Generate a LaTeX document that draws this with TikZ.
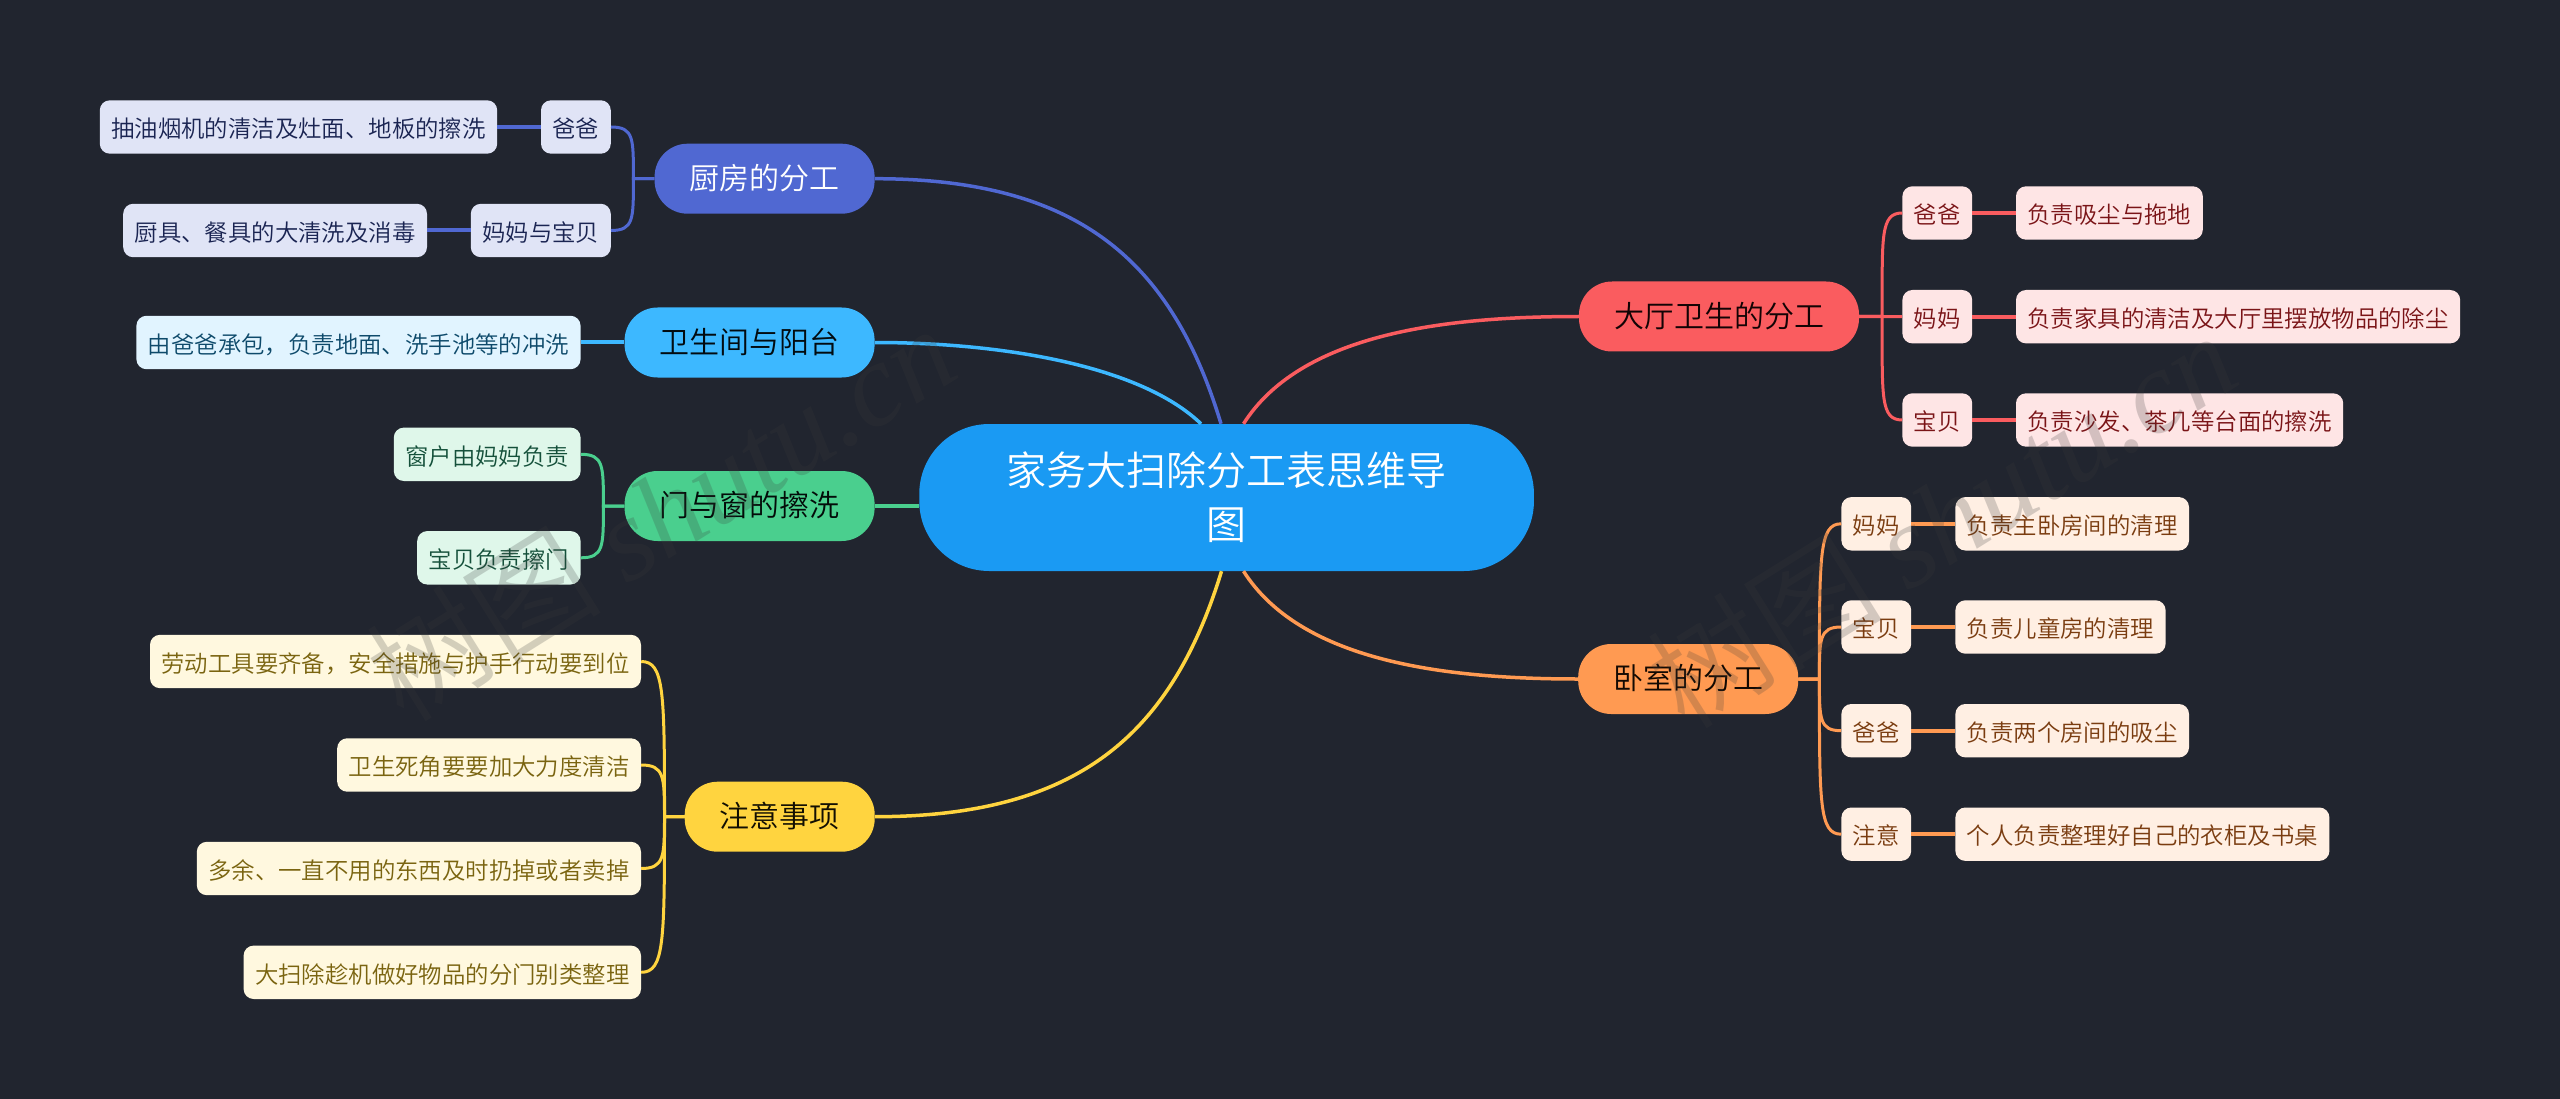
\documentclass[tikz,border=0pt]{standalone}
\usepackage{fontspec}
\setmainfont{Noto Sans CJK SC DemiLight}
\newfontfamily\markfont{Liberation Serif}
\definecolor{bgcol}{HTML}{21252F}
\definecolor{rootcol}{HTML}{1A9AF3}
\definecolor{kitchencol}{HTML}{5068D2}
\definecolor{kitchenpale}{HTML}{E0E4F6}
\definecolor{kitchentext}{HTML}{1A2452}
\definecolor{bathcol}{HTML}{3DB8FF}
\definecolor{bathpale}{HTML}{E1F4FF}
\definecolor{bathtext}{HTML}{0E4A6B}
\definecolor{doorcol}{HTML}{4ACF8E}
\definecolor{doorpale}{HTML}{DFF7EA}
\definecolor{doortext}{HTML}{14503A}
\definecolor{notecol}{HTML}{FFD43F}
\definecolor{notepale}{HTML}{FFF8DF}
\definecolor{notetext}{HTML}{7A6410}
\definecolor{hallcol}{HTML}{FA5C5F}
\definecolor{hallpale}{HTML}{FEE5E5}
\definecolor{halltext}{HTML}{7A1417}
\definecolor{bedcol}{HTML}{FF9A52}
\definecolor{bedpale}{HTML}{FFEFE3}
\definecolor{bedtext}{HTML}{7A3C10}
\tikzset{
    rootnode/.style={fill=rootcol, text=white, rounded corners=70pt, minimum width=614.7pt,
        minimum height=147pt, inner sep=0pt, align=center,
        font=\fontsize{40}{54}\selectfont},
    topicnode/.style={rounded corners=33pt, minimum height=70pt, inner xsep=35pt, inner ysep=0pt,
        text height=21.2pt, text depth=0pt, font=\fontsize{30}{36}\selectfont},
    leafnode/.style={rounded corners=10pt, minimum height=53.4pt, inner xsep=11.5pt, inner ysep=0pt,
        text height=21.5pt, text depth=0pt, font=\fontsize{23.4}{28}\selectfont},
    rootline/.style={line width=3.5pt},
    stemline/.style={line width=3pt},
    jobline/.style={line width=4pt},
    markstyle/.style={text=black!77, opacity=.22, rotate=32, font=\fontsize{118}{120}\selectfont}
}
\begin{document}
\begin{tikzpicture}[x=1pt, y=-1pt]
    % Background
    \useasboundingbox (0,0) rectangle (2560,1099);
    \fill[bgcol] (0,0) rectangle (2560,1099);

    % Root
    \node[rootnode] (root) at (1226.6,497.5) {家务大扫除分工表思维导\\图};

    % Kitchen
    \node[topicnode, anchor=east, fill=kitchencol, text=white] (kitchen) at (874.8,178.7) {厨房的分工};
    \node[leafnode, anchor=east, fill=kitchenpale, text=kitchentext] (kdad) at (611,127) {爸爸};
    \node[leafnode, anchor=east, fill=kitchenpale, text=kitchentext] (kdadjob) at (497.4,127) {抽油烟机的清洁及灶面、地板的擦洗};
    \node[leafnode, anchor=east, fill=kitchenpale, text=kitchentext] (kmom) at (611,230.5) {妈妈与宝贝};
    \node[leafnode, anchor=east, fill=kitchenpale, text=kitchentext] (kmomjob) at (427.2,230.5) {厨具、餐具的大清洗及消毒};

    % Bathroom
    \node[topicnode, anchor=east, fill=bathcol, text=black!85!bathtext] (bath) at (874.8,342.5) {卫生间与阳台};
    \node[leafnode, anchor=east, fill=bathpale, text=bathtext] (bathjob) at (580.8,342.5) {由爸爸承包，负责地面、洗手池等的冲洗};

    % Doors and windows
    \node[topicnode, anchor=east, fill=doorcol, text=black!85!doortext] (door) at (874.8,506) {门与窗的擦洗};
    \node[leafnode, anchor=east, fill=doorpale, text=doortext] (dwin) at (580.8,454.3) {窗户由妈妈负责};
    \node[leafnode, anchor=east, fill=doorpale, text=doortext] (ddoor) at (580.8,557.8) {宝贝负责擦门};

    % Notes
    \node[topicnode, anchor=east, fill=notecol, text=black!85!notetext] (notes) at (874.9,816.7) {注意事项};
    \node[leafnode, anchor=east, fill=notepale, text=notetext] (nfirst) at (641.2,661.5) {劳动工具要齐备，安全措施与护手行动要到位};
    \node[leafnode, anchor=east, fill=notepale, text=notetext] (nsecond) at (641.2,765) {卫生死角要要加大力度清洁};
    \node[leafnode, anchor=east, fill=notepale, text=notetext] (nthird) at (641.2,868.5) {多余、一直不用的东西及时扔掉或者卖掉};
    \node[leafnode, anchor=east, fill=notepale, text=notetext] (nfourth) at (641.2,972.3) {大扫除趁机做好物品的分门别类整理};

    % Hall
    \node[topicnode, anchor=west, fill=hallcol, text=black!85!halltext] (hall) at (1578.8,316.5) {大厅卫生的分工};
    \node[leafnode, anchor=west, fill=hallpale, text=halltext] (hdad) at (1902.2,213) {爸爸};
    \node[leafnode, anchor=west, fill=hallpale, text=halltext] (hdadjob) at (2015.8,213) {负责吸尘与拖地};
    \node[leafnode, anchor=west, fill=hallpale, text=halltext] (hmom) at (1902.2,316.7) {妈妈};
    \node[leafnode, anchor=west, fill=hallpale, text=halltext] (hmomjob) at (2015.8,316.7) {负责家具的清洁及大厅里摆放物品的除尘};
    \node[leafnode, anchor=west, fill=hallpale, text=halltext] (hkid) at (1902.2,420) {宝贝};
    \node[leafnode, anchor=west, fill=hallpale, text=halltext] (hkidjob) at (2015.8,420) {负责沙发、茶几等台面的擦洗};

    % Bedroom
    \node[topicnode, anchor=west, fill=bedcol, text=black!85!bedtext] (bed) at (1578,679) {卧室的分工};
    \node[leafnode, anchor=west, fill=bedpale, text=bedtext] (bmom) at (1841.2,523.8) {妈妈};
    \node[leafnode, anchor=west, fill=bedpale, text=bedtext] (bmomjob) at (1955.2,523.8) {负责主卧房间的清理};
    \node[leafnode, anchor=west, fill=bedpale, text=bedtext] (bkid) at (1841.2,627) {宝贝};
    \node[leafnode, anchor=west, fill=bedpale, text=bedtext] (bkidjob) at (1955.2,627) {负责儿童房的清理};
    \node[leafnode, anchor=west, fill=bedpale, text=bedtext] (bdad) at (1841.2,730.7) {爸爸};
    \node[leafnode, anchor=west, fill=bedpale, text=bedtext] (bdadjob) at (1955.2,730.7) {负责两个房间的吸尘};
    \node[leafnode, anchor=west, fill=bedpale, text=bedtext] (bnote) at (1841.2,834.2) {注意};
    \node[leafnode, anchor=west, fill=bedpale, text=bedtext] (bnotejob) at (1955.2,834.2) {个人负责整理好自己的衣柜及书桌};

    % Root lines
    \draw[rootline, kitchencol] (kitchen.east) .. controls +(205,0) and (1172,262) .. ([xshift=-5.6pt]root.north);
    \draw[rootline, bathcol] (bath.east) .. controls +(125,0) and (1140,365) .. ([xshift=-25.6pt]root.north);
    \draw[rootline, doorcol] (door.east) -- (door.east -| root.west);
    \draw[rootline, notecol] (notes.east) .. controls +(205,0) and (1172,733) .. ([xshift=-5.1pt]root.south);
    \draw[rootline, hallcol] (hall.west) .. controls +(-139,0) and (1300,335) .. ([xshift=16.9pt]root.north);
    \draw[rootline, bedcol] (bed.west) .. controls +(-138,0) and (1300,660) .. ([xshift=16.9pt]root.south);

    % Kitchen lines
    \draw[stemline, kitchencol] (kitchen.west) -- ++(-21,0) .. controls +(0,-40) and +(23,0) .. (kdad.east);
    \draw[stemline, kitchencol] (kitchen.west) -- ++(-21,0) .. controls +(0,40) and +(23,0) .. (kmom.east);
    \draw[jobline, kitchencol] (kdad.west) -- (kdadjob.east);
    \draw[jobline, kitchencol] (kmom.west) -- (kmomjob.east);

    % Bathroom line
    \draw[jobline, bathcol] (bath.west) -- (bathjob.east);

    % Door lines
    \draw[stemline, doorcol] (door.west) -- ++(-21,0) .. controls +(0,-40) and +(23,0) .. (dwin.east);
    \draw[stemline, doorcol] (door.west) -- ++(-21,0) .. controls +(0,40) and +(23,0) .. (ddoor.east);

    % Note lines
    \draw[stemline, notecol] (notes.west) -- ++(-20,0) .. controls +(0,-125) and +(23,0) .. (nfirst.east);
    \draw[stemline, notecol] (notes.west) -- ++(-20,0) .. controls +(0,-40) and +(23,0) .. (nsecond.east);
    \draw[stemline, notecol] (notes.west) -- ++(-20,0) .. controls +(0,40) and +(23,0) .. (nthird.east);
    \draw[stemline, notecol] (notes.west) -- ++(-20,0) .. controls +(0,125) and +(23,0) .. (nfourth.east);

    % Hall lines
    \draw[stemline, hallcol] (hall.east) -- ++(23,0) .. controls +(0,-80) and +(-22,0) .. (hdad.west);
    \draw[stemline, hallcol] (hall.east) -- (hmom.west);
    \draw[stemline, hallcol] (hall.east) -- ++(23,0) .. controls +(0,80) and +(-22,0) .. (hkid.west);
    \draw[jobline, hallcol] (hdad.east) -- (hdadjob.west);
    \draw[jobline, hallcol] (hmom.east) -- (hmomjob.west);
    \draw[jobline, hallcol] (hkid.east) -- (hkidjob.west);

    % Bedroom lines
    \draw[stemline, bedcol] (bed.east) -- ++(21,0) .. controls +(0,-125) and +(-22,0) .. (bmom.west);
    \draw[stemline, bedcol] (bed.east) -- ++(21,0) .. controls +(0,-40) and +(-22,0) .. (bkid.west);
    \draw[stemline, bedcol] (bed.east) -- ++(21,0) .. controls +(0,40) and +(-22,0) .. (bdad.west);
    \draw[stemline, bedcol] (bed.east) -- ++(21,0) .. controls +(0,125) and +(-22,0) .. (bnote.west);
    \draw[jobline, bedcol] (bmom.east) -- (bmomjob.west);
    \draw[jobline, bedcol] (bkid.east) -- (bkidjob.west);
    \draw[jobline, bedcol] (bdad.east) -- (bdadjob.west);
    \draw[jobline, bedcol] (bnote.east) -- (bnotejob.west);

    % Watermark
    \node[markstyle] (markleft) at (660,512) {树图 {\markfont\itshape shutu.cn}};
    \node[markstyle] (markright) at (1941,519) {树图 {\markfont\itshape shutu.cn}};
\end{tikzpicture}
\end{document}
